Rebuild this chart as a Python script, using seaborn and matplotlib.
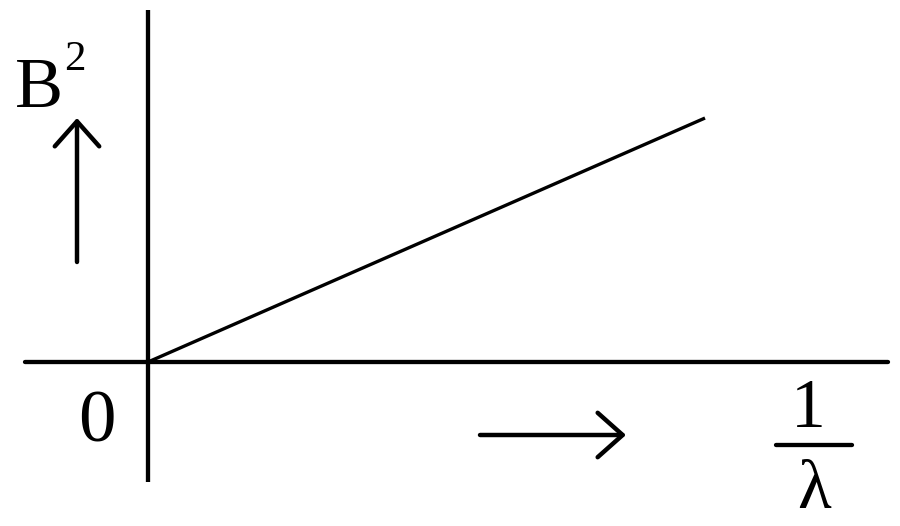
import matplotlib
matplotlib.use("Agg")
import matplotlib.pyplot as plt
import seaborn as sns
import pandas as pd

# data: B^2 against 1/lambda, a straight line through the origin
inv_lambda = [0.0, 10.0]
b_squared = [0.0, 4.38]

W, H = 900, 526
PX = 55.7           # pixels per data unit
X0, Y0 = 148, 362   # origin in pixels


def fig_xy(px, py):
    # pixel position (from top-left) -> figure fraction
    return px / W, 1 - py / H


sns.set_theme(style="white")
plt.rcParams["font.family"] = ["Liberation Serif", "DejaVu Serif"]
plt.rcParams["text.color"] = "black"

fig = plt.figure(figsize=(W / 100, H / 100), dpi=100)
ax = fig.add_axes([0, 0, 1, 1])
ax.set_xlim(-X0 / PX, (W - X0) / PX)
ax.set_ylim(-(H - Y0) / PX, Y0 / PX)
ax.set_axis_off()

df = pd.DataFrame({"x": inv_lambda, "y": b_squared})
sns.lineplot(data=df, x="x", y="y", ax=ax, color="black", lw=2.4,
             solid_capstyle="butt")

# coordinate axes
ax.plot([(25 - X0) / PX, (888 - X0) / PX], [0, 0], color="black", lw=3.1,
        solid_capstyle="round")
ax.plot([0, 0], [(Y0 - 10) / PX, (Y0 - 482) / PX], color="black", lw=3.1,
        solid_capstyle="butt")

# labels
txt = dict(color="black", ha="center", va="baseline")
fig.text(*fig_xy(39, 107), "B", fontsize=52, **txt)
fig.text(*fig_xy(75, 70), "2", fontsize=31, **txt)
fig.text(*fig_xy(97, 442), "0", fontsize=54, **txt)
fig.text(*fig_xy(808, 427), "1", fontsize=50, **txt)
fig.text(*fig_xy(814, 508), "\u03bb", fontsize=50, **txt)
fig.add_artist(plt.Line2D([776 / W, 852 / W], [1 - 445 / H] * 2, color="black",
                          lw=3.1, solid_capstyle="round"))

# direction arrows
arrow = dict(arrowstyle="->,head_length=0.9,head_width=0.8", color="black",
             lw=3.2, mutation_scale=20, shrinkA=0, shrinkB=0)
ax.annotate("", xy=fig_xy(77, 118), xytext=fig_xy(77, 262),
            xycoords="figure fraction", textcoords="figure fraction",
            arrowprops=arrow)
ax.annotate("", xy=fig_xy(626, 435), xytext=fig_xy(480, 435),
            xycoords="figure fraction", textcoords="figure fraction",
            arrowprops=arrow)

fig.savefig("out.png", dpi=100, facecolor="white")
